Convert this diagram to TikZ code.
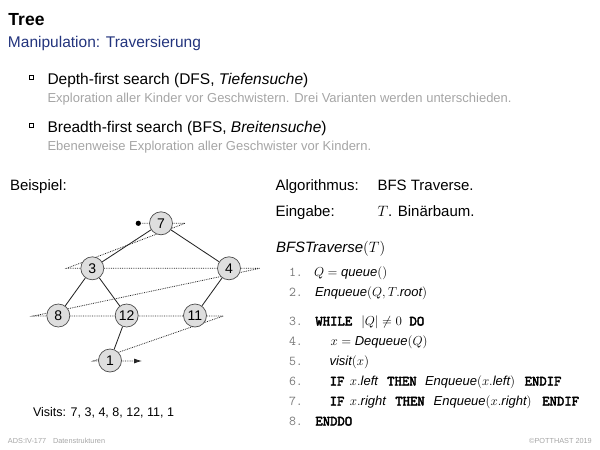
\RequirePackage{fix-cm}
\documentclass[tikz,border=0pt]{standalone}
\usepackage[no-math]{fontspec}
\setmainfont{Liberation Sans}
\newfontfamily\kwfont{lmmono10-regular.otf}[FakeBold=3]
\usetikzlibrary{arrows.meta}
\pgfdeclarelayer{bg}
\pgfsetlayers{bg,main}
\definecolor{navy}{RGB}{35,52,125}
\definecolor{lightgrey}{RGB}{165,165,165}
\definecolor{numgrey}{RGB}{120,120,120}
\newcommand\fs[1]{\fontsize{#1}{#1}\selectfont}
\newcommand\kw[2]{\makebox[#1pt][c]{\kwfont\fs{14}#2}}
\newcommand\fn[1]{\mbox{\itshape #1}}
\begin{document}
\begin{tikzpicture}[x=1pt,y=-1pt,
  txt/.style={anchor=base west, inner sep=0pt, outer sep=0pt},
  num/.style={txt, font=\ttfamily\fs{13.5}, text=numgrey},
  code/.style={txt, font=\fs{13}},
  tn/.style={circle, draw=black!70, fill=black!13, line width=0.7pt, minimum size=23pt, inner sep=0pt, font=\fs{14}},
  edge/.style={draw=black!85, line width=0.85pt},
  scan/.style={draw=black!85, line width=0.8pt, densely dotted},
  sqbullet/.pic={\draw[line width=0.45pt] (-2,-2) rectangle (2,2);
                 \draw[line width=1.1pt] (-1.4,2.55) -- (2.55,2.55) -- (2.55,-1.4);}
  ]
\useasboundingbox (0,0) rectangle (600,450);
% header
\node[txt, font=\fs{17.5}\bfseries] (title) at (8.5,25) {Tree};
\node[txt, font=\fs{15.5}, text=navy] (sub) at (8,47) {Manipulation: Traversierung};
% bullets
\pic at (31.3,77.3) {sqbullet};
\node[txt, font=\fs{15.5}] (b1) at (47.5,84) {Depth-first search (DFS, \textit{Tiefensuche})};
\node[txt, font=\fs{13}, text=lightgrey] (g1) at (47.5,102) {Exploration aller Kinder vor Geschwistern. Drei Varianten werden unterschieden.};
\pic at (31.3,125.3) {sqbullet};
\node[txt, font=\fs{15.5}] (b2) at (47.5,132) {Breadth-first search (BFS, \textit{Breitensuche})};
\node[txt, font=\fs{13}, text=lightgrey] (g2) at (47.5,150) {Ebenenweise Exploration aller Geschwister vor Kindern.};
% left column
\node[txt, font=\fs{15}] (beis) at (10,190.5) {Beispiel:};
\node[txt, font=\fs{12.5}] (visits) at (33,416) {Visits: 7, 3, 4, 8, 12, 11, 1};
% tree
\node[tn] (n7) at (161,223.3) {7};
\node[tn] (n3) at (92.3,268.3) {3};
\node[tn] (n4) at (229,268.3) {4};
\node[tn] (n8) at (58.3,315.5) {8};
\node[tn] (n12) at (126.7,315.5) {12};
\node[tn] (n11) at (195,315.5) {11};
\node[tn] (n1) at (110,360.5) {1};
\coordinate (s0) at (138.3,223.3);
\coordinate (s1) at (185,223.3);
\coordinate (s2) at (66.7,268.3);
\coordinate (s3) at (260,268.3);
\coordinate (s4) at (33.3,316);
\coordinate (s5) at (223.3,316);
\coordinate (s6) at (93.3,361);
\coordinate (s7) at (142,361);
\begin{pgfonlayer}{bg}
\draw[scan, -{Latex[length=8pt,width=5pt]}] (s0) -- (s1) -- (s2) -- (s3) -- (s4) -- (s5) -- (s6) -- (s7);
\draw[edge] (n7) -- (n3);
\draw[edge] (n7) -- (n4);
\draw[edge] (n3) -- (n8);
\draw[edge] (n3) -- (n12);
\draw[edge] (n4) -- (n11);
\draw[edge] (n12) -- (n1);
\end{pgfonlayer}
\fill (s0) circle (2.6);
% right column
\node[txt, font=\fs{15}] (alg) at (275.5,190.5) {Algorithmus:};
\node[txt, font=\fs{15}] (algv) at (377.5,190.5) {BFS Traverse.};
\node[txt, font=\fs{15}] (ein) at (275.5,216.5) {Eingabe:};
\node[txt, font=\fs{15}] (einv) at (377.5,216.5) {$T$. Binärbaum.};
\node[txt, font=\fs{15}] (proc) at (276,252) {\textit{BFSTraverse}$(T)$};
\node[num] (l1) at (289,276) {1.};
\node[code] (c1) at (314,276) {$Q=\fn{queue}()$};
\node[num] (l2) at (289,296) {2.};
\node[code] (c2) at (315,296) {\fn{Enqueue}$(Q,T.\fn{root})$};
\node[num] (l3) at (289,325.5) {3.};
\node[code] (c3) at (314.3,325.5) {\kw{39}{WHILE}\hspace{8pt}$|Q|\neq 0$\hspace{7pt}\kw{15.6}{DO}};
\node[num] (l4) at (289,345.5) {4.};
\node[code] (c4) at (330.5,345.5) {$x=\fn{Dequeue}(Q)$};
\node[num] (l5) at (289,365.5) {5.};
\node[code] (c5) at (329.5,365.5) {\fn{visit}$(x)$};
\node[num] (l6) at (289,385.5) {6.};
\node[code] (c6) at (329.3,385.5) {\kw{15.6}{IF}\hspace{5pt}$x.\fn{left}$\hspace{8.3pt}\kw{31.2}{THEN}\hspace{7.5pt}\fn{Enqueue}$(x.\fn{left})$\hspace{8.5pt}\kw{39}{ENDIF}};
\node[num] (l7) at (289,405.5) {7.};
\node[code] (c7) at (329.3,405.5) {\kw{15.6}{IF}\hspace{5pt}$x.\fn{right}$\hspace{8.5pt}\kw{31.2}{THEN}\hspace{8pt}\fn{Enqueue}$(x.\fn{right})$\hspace{9.5pt}\kw{39}{ENDIF}};
\node[num] (l8) at (289,425.5) {8.};
\node[code] (c8) at (314.3,425.5) {\kw{39}{ENDDO}};
% footer
\node[txt, font=\fs{7.3}, text=lightgrey] (fl) at (8,443) {ADS:IV-177\hspace{7pt}Datenstrukturen};
\node[anchor=base east, inner sep=0pt, font=\fs{7.3}, text=lightgrey] (fr) at (592,443) {©POTTHAST 2019};
\end{tikzpicture}
\end{document}
